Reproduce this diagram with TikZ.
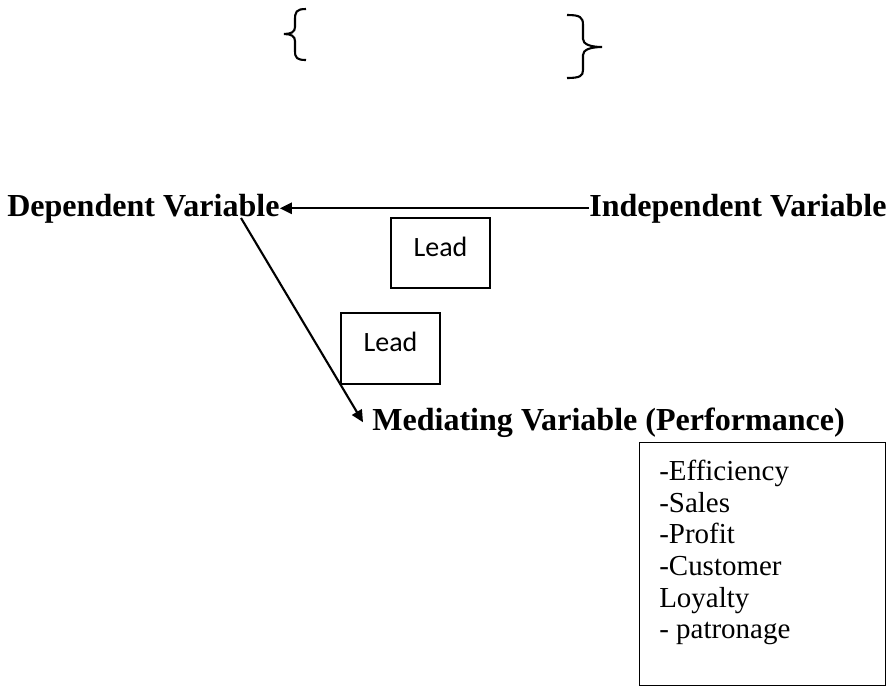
\documentclass[tikz,border=0pt]{standalone}
\usepackage{fontspec}
\setmainfont{Liberation Serif}
\newfontfamily\leadfont{Carlito}
\usetikzlibrary{arrows.meta, positioning}
\tikzset{
  varlabel/.style={inner sep=0pt, font=\bfseries\fontsize{22.8}{27}\selectfont}, % bold variable names
  leadbox/.style={draw, line width=0.9pt, minimum width=2.475cm, minimum height=1.75cm, inner sep=0pt, text height=14pt, text depth=9.6pt, font=\leadfont\fontsize{19.9}{24}\selectfont},
  measures/.style={inner sep=0pt, align=left, font=\fontsize{20.6}{22.5}\selectfont},
  bracket/.style={line width=1.5pt},
  link/.style={->, line width=1.5pt}
}

\begin{document}
\begin{tikzpicture}[x=0.025cm, y=-0.025cm, >={Triangle[length=0.3cm, width=0.28cm]}]
    \useasboundingbox (0,0) rectangle (888,686);

    % Braces
    \draw[bracket] (306,9) .. controls (296,9) and (295,12) .. (295,20) -- (295,27) .. controls (295,32) and (291,34) .. (284,34) .. controls (291,34) and (295,36) .. (295,41) -- (295,51) .. controls (295,58) and (297,60) .. (306,60);
    \draw[bracket] (567,15) .. controls (580,15) and (583,17) .. (583,25) -- (583,39) .. controls (583,44) and (590,47) .. (602,47) .. controls (590,47) and (583,50) .. (583,55) -- (583,70) .. controls (583,76) and (580,78) .. (567,78);

    % Nodes
    \node[varlabel, anchor=base west] (dependent) at (7,216) {Dependent Variable};
    \node[varlabel, anchor=base west] (independent) at (589,216) {Independent Variable};
    \node[varlabel, anchor=base west] (mediating) at (372,430) {Mediating Variable (Performance)};
    \node[leadbox] (lead1) at (440.5,253) {Lead};
    \node[leadbox, minimum height=1.775cm] (lead2) at (390.5,348.5) {Lead};
    \node[draw, line width=1pt, minimum width=6.15cm, minimum height=6.075cm, anchor=north west] (perfbox) at (639,442) {};
    \node[measures, below right=0.45cm and 0.5cm of perfbox.north west] (perflist) {-Efficiency\\-Sales\\-Profit\\-Customer\\Loyalty\\- patronage};
    \coordinate (diagstart) at (241,218);

    % Edges
    \draw[link] (independent.west) -- (dependent.east);
    \draw[link] (diagstart) -- ([xshift=-0.225cm]mediating.west);

\end{tikzpicture}
\end{document}
